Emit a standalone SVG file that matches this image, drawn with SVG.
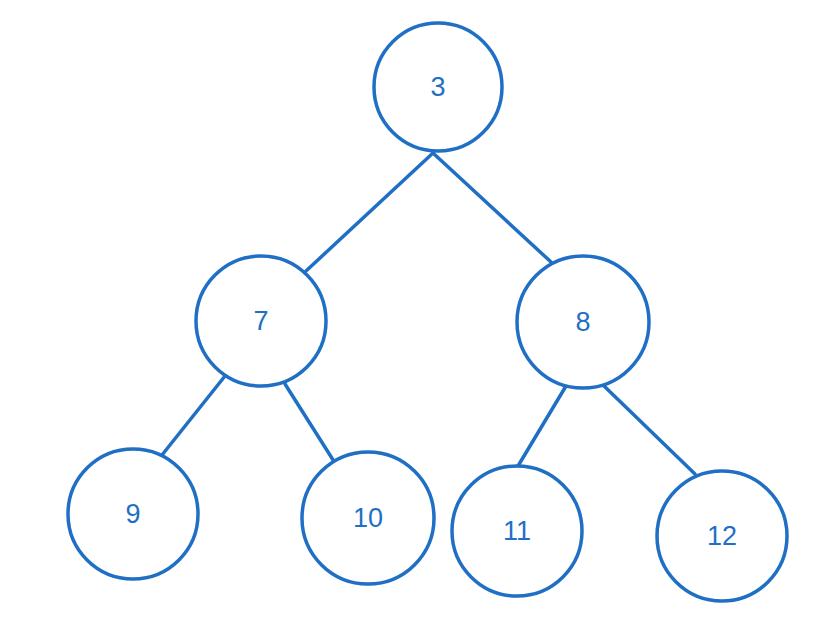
<svg xmlns="http://www.w3.org/2000/svg" width="823" height="619" viewBox="0 0 823 619">
<style>
.n{fill:#fff;stroke:#1f6fc5;stroke-width:3.5}
.t{fill:#1f6fc5;font-family:"Liberation Sans",sans-serif;font-size:27px;text-anchor:middle;dominant-baseline:central}
.e{stroke:#1f6fc5;stroke-width:3.5;fill:none;stroke-linecap:round}
</style>
<rect width="823" height="619" fill="#fff"/>
<g id="connectors">
<line class="e" x1="433" y1="153" x2="306" y2="271"/>
<line class="e" x1="433" y1="153" x2="551" y2="262"/>
<line class="e" x1="225" y1="376" x2="162" y2="455"/>
<line class="e" x1="285" y1="384" x2="335" y2="463"/>
<line class="e" x1="566" y1="386" x2="518" y2="466"/>
<line class="e" x1="603" y1="385" x2="695" y2="474"/>
</g>
<g id="n3"><circle class="n" cx="438" cy="87" r="64"/><text class="t" x="438" y="87">3</text></g>
<g id="n7"><circle class="n" cx="261" cy="321" r="65"/><text class="t" x="261" y="321">7</text></g>
<g id="n8"><circle class="n" cx="583" cy="322" r="66"/><text class="t" x="583" y="322">8</text></g>
<g id="n9"><circle class="n" cx="133" cy="514" r="65"/><text class="t" x="133" y="514">9</text></g>
<g id="n10"><circle class="n" cx="368" cy="518" r="66"/><text class="t" x="368" y="518">10</text></g>
<g id="n11"><circle class="n" cx="517" cy="531" r="65"/><text class="t" x="517" y="531">11</text></g>
<g id="n12"><circle class="n" cx="722" cy="536" r="65"/><text class="t" x="722" y="536">12</text></g>
</svg>
